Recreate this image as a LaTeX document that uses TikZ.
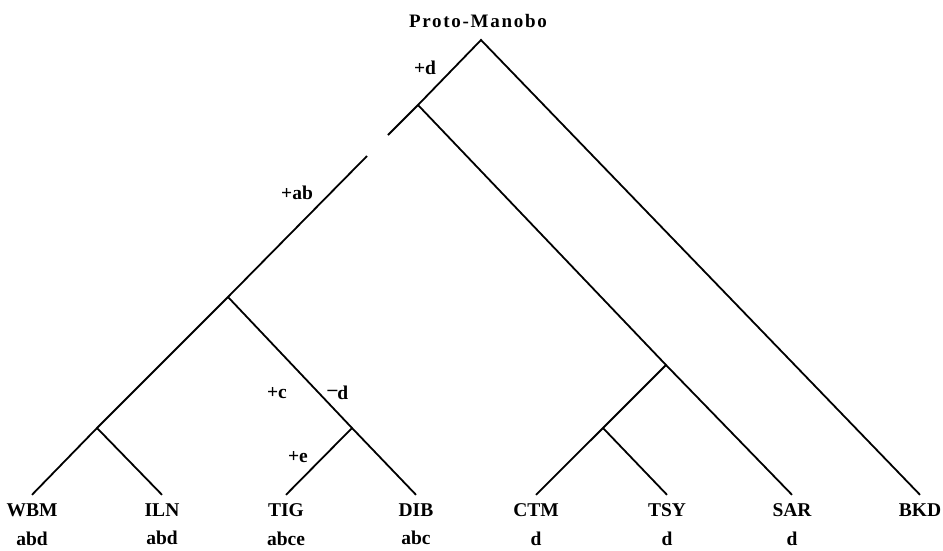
\documentclass[tikz,border=0pt]{standalone}
\usepackage{fontspec}
\setmainfont{Liberation Serif}
\usetikzlibrary{positioning}
\tikzset{
  branch/.style={draw=black, line width=1.8pt, line join=miter},
  lang/.style={font=\fontsize{19.5}{22}\selectfont\bfseries, anchor=base, inner sep=1pt, text height=20pt},
  feat/.style={font=\fontsize{19.5}{22}\selectfont\bfseries, inner sep=1pt},
  chg/.style={font=\fontsize{19.5}{22}\selectfont\bfseries, inner sep=0pt},
  root/.style={font=\fontsize{19}{22}\selectfont\bfseries\addfontfeature{LetterSpace=9}, anchor=base, inner sep=0pt}
}
\begin{document}
\begin{tikzpicture}[x=1pt, y=-1pt]
    \useasboundingbox (0,0) rectangle (943,550);
    \node[root] (pm) at (478,27) {Proto-Manobo};
    \coordinate (r) at (481,40);
    \coordinate (a) at (418,105);
    \coordinate (ga) at (388,135);
    \coordinate (gb) at (367,156);
    \coordinate (b) at (228,297);
    \coordinate (e) at (97,428);
    \coordinate (f) at (352,428);
    \coordinate (c) at (666,365);
    \coordinate (d) at (603,428);
    \node[lang] (wbm) at (32,516) {WBM};
    \node[lang] (iln) at (162,516) {ILN};
    \node[lang] (tig) at (286,516) {TIG};
    \node[lang] (dib) at (416,516) {DIB};
    \node[lang] (ctm) at (536,516) {CTM};
    \node[lang] (tsy) at (667,516) {TSY};
    \node[lang] (sar) at (792,516) {SAR};
    \node[lang] (bkd) at (920,516) {BKD};
    \node[feat, below=13pt of wbm] (fwbm) {abd};
    \node[feat, below=13pt of iln] (filn) {abd};
    \node[feat, below=13pt of tig] (ftig) {abce};
    \node[feat, below=13pt of dib] (fdib) {abc};
    \node[feat, below=13pt of ctm] (fctm) {d};
    \node[feat, below=13pt of tsy] (ftsy) {d};
    \node[feat, below=13pt of sar] (fsar) {d};
    \draw[branch] (bkd.north) -- (r) -- (a) -- (ga);
    \draw[branch] (gb) -- (b) -- (e) -- (wbm.north);
    \draw[branch] (e) -- (iln.north);
    \draw[branch] (b) -- (f) -- (dib.north);
    \draw[branch] (f) -- (tig.north);
    \draw[branch] (a) -- (c) -- (sar.north);
    \draw[branch] (c) -- (d) -- (ctm.north);
    \draw[branch] (d) -- (tsy.north);
    \node[chg] (md) at (425,68) {+d};
    \node[chg] (mab) at (297,193) {+ab};
    \node[chg] (mc) at (277,393) {+c};
    \node[chg] (mnd) at (338,393) {\raisebox{0.2em}{–}d};
    \node[chg] (me) at (298,457) {+e};
  \end{tikzpicture}
\end{document}
